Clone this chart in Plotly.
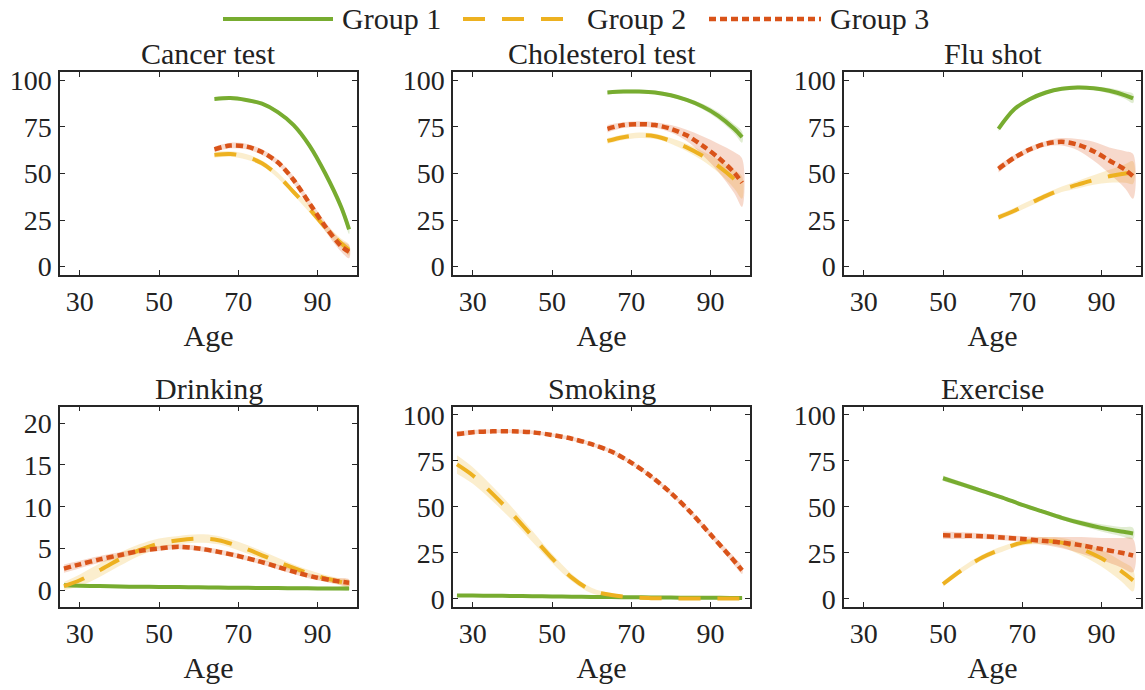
import plotly.graph_objects as go

# ---------------- data ----------------
groups = ["Group 1", "Group 2", "Group 3"]

top_age = [64, 68, 72, 76, 80, 84, 88, 92, 96, 98]

cancer_g1 = [90, 90.5, 89.5, 87.5, 83, 76, 65, 50, 32, 20]
cancer_g2 = [60, 60.5, 59, 55.5, 49, 40, 31, 21, 12.5, 9]
cancer_g3 = [63, 65, 64.5, 61.5, 56, 46.5, 34, 21.5, 11, 8]
cancer_ci1 = [1, 1, 1, 1, 1, 1, 1.5, 1.5, 2, 2.5]
cancer_ci2 = [1.5, 1.5, 1.5, 1.5, 1.5, 1.5, 2, 2, 2.5, 3]
cancer_ci3 = [1.5, 1.5, 1.5, 1.5, 1.5, 2, 2, 2.5, 3, 3.5]

chol_g1 = [93.5, 94, 94, 93.5, 92, 89.5, 86, 81, 74, 69.5]
chol_g2 = [67.5, 69.5, 70.5, 70, 67.5, 64, 59.5, 54, 47, 42.5]
chol_g3 = [74, 76, 76.5, 76, 74, 70.5, 65, 58.5, 50.5, 45]
chol_ci1 = [1, 1, 1, 1, 1, 1, 1.5, 2, 2.5, 3]
chol_ci2 = [1.5, 1.5, 1.5, 1.5, 1.5, 2, 2.5, 3.5, 5, 6]
chol_ci3 = [2, 1.5, 1.5, 1.5, 2, 3, 5, 7.5, 11, 13]

flu_g1 = [74, 84.5, 90, 93.5, 95.5, 96.2, 95.8, 94.4, 92, 90.3]
flu_g2 = [26.5, 30, 34, 38, 41.5, 44, 46.5, 48.5, 50, 50.5]
flu_g3 = [52.5, 58.5, 63, 66, 67, 65.5, 62, 57, 52, 48.5]
flu_ci1 = [1.5, 1, 1, 1, 1, 1, 1, 1.5, 2, 2.5]
flu_ci2 = [1.5, 1.5, 1.5, 1.5, 1.5, 2, 2.5, 3.5, 5, 6]
flu_ci3 = [2, 1.5, 1.5, 1.5, 2, 3, 5, 7, 10, 12]

life_age = [26, 30, 35, 40, 45, 50, 55, 60, 65, 70, 75, 80, 85, 90, 95, 98]

drink_g1 = [0.6, 0.55, 0.5, 0.45, 0.42, 0.4, 0.38, 0.35, 0.33, 0.3, 0.28, 0.26, 0.24, 0.22, 0.2, 0.2]
drink_g2 = [0.5, 1.2, 2.4, 3.7, 4.8, 5.6, 6.0, 6.2, 6.0, 5.3, 4.4, 3.4, 2.5, 1.7, 1.1, 0.8]
drink_g3 = [2.6, 3.1, 3.7, 4.2, 4.7, 5.0, 5.2, 5.0, 4.6, 4.1, 3.5, 2.8, 2.1, 1.5, 1.1, 0.9]
drink_ci1 = [0.2, 0.2, 0.2, 0.2, 0.2, 0.2, 0.2, 0.2, 0.2, 0.2, 0.2, 0.2, 0.2, 0.2, 0.2, 0.2]
drink_ci2 = [0.5, 0.7, 0.8, 0.8, 0.7, 0.6, 0.5, 0.5, 0.5, 0.5, 0.5, 0.5, 0.4, 0.4, 0.4, 0.4]
drink_ci3 = [0.5, 0.45, 0.4, 0.35, 0.3, 0.3, 0.3, 0.3, 0.3, 0.3, 0.3, 0.3, 0.3, 0.3, 0.35, 0.4]

smoke_g1 = [1.8, 1.7, 1.6, 1.5, 1.4, 1.2, 1.1, 1.0, 0.9, 0.8, 0.7, 0.6, 0.55, 0.5, 0.45, 0.4]
smoke_g2 = [73, 67, 57, 46, 34, 22, 11.5, 4.5, 2, 0.7, 0.3, 0.2, 0.1, 0.1, 0.1, 0.1]
smoke_g3 = [89.5, 90.5, 91, 91, 90.5, 89, 87, 84, 80, 74, 66.5, 57.5, 47, 35, 23, 15.5]
smoke_ci1 = [0.5, 0.5, 0.5, 0.5, 0.5, 0.5, 0.5, 0.5, 0.5, 0.5, 0.5, 0.5, 0.5, 0.5, 0.5, 0.5]
smoke_ci2 = [5, 4.5, 4, 3.5, 3, 2.5, 2, 1.5, 1, 0.5, 0.3, 0.3, 0.3, 0.3, 0.3, 0.3]
smoke_ci3 = [1.5, 1.2, 1, 1, 1, 1, 1, 1, 1, 1, 1, 1, 1.2, 1.5, 2, 2]

ex_age = [50, 55, 60, 65, 70, 75, 80, 85, 90, 95, 98]
ex_g1 = [65.5, 62, 58.5, 55, 51, 47.5, 44, 41, 38.5, 36.5, 35.5]
ex_g2 = [8, 16, 22.5, 27, 30.5, 31.5, 30.5, 27, 22, 15, 10]
ex_g3 = [34.5, 34.3, 34, 33.3, 32.5, 31.5, 30.5, 29, 27, 25, 23.5]
ex_ci1 = [1.5, 1.3, 1.2, 1, 1, 1, 1.2, 1.5, 2, 2.5, 3]
ex_ci2 = [1.5, 1.5, 1.5, 1.5, 1.5, 2, 2.5, 3.5, 4.5, 5.5, 6]
ex_ci3 = [2, 1.8, 1.5, 1.5, 1.5, 2, 3, 4.5, 6, 8, 9]

titles = ["Cancer test", "Cholesterol test", "Flu shot", "Drinking", "Smoking", "Exercise"]
x_ticks = [30, 50, 70, 90]
pct_ticks = [0, 25, 50, 75, 100]
drink_ticks = [0, 5, 10, 15, 20]

# ---------------- styling ----------------
COLORS = ["#77AC30", "#EDB120", "#D95319"]
BANDS = ["rgba(119,172,48,0.22)", "rgba(237,177,32,0.22)", "rgba(217,83,25,0.22)"]
DASHES = ["solid", "22px,17px", "7px,4px"]
WIDTHS = [4, 4, 4.5]
FONT = "Liberation Serif, Times New Roman, serif"
AXC = "#262626"
TXT = "#222"

panels = [
    (top_age, [cancer_g1, cancer_g2, cancer_g3], [cancer_ci1, cancer_ci2, cancer_ci3], pct_ticks, [-4.5, 104.5]),
    (top_age, [chol_g1, chol_g2, chol_g3], [chol_ci1, chol_ci2, chol_ci3], pct_ticks, [-4.5, 104.5]),
    (top_age, [flu_g1, flu_g2, flu_g3], [flu_ci1, flu_ci2, flu_ci3], pct_ticks, [-4.5, 104.5]),
    (life_age, [drink_g1, drink_g2, drink_g3], [drink_ci1, drink_ci2, drink_ci3], drink_ticks, [-2, 22]),
    (life_age, [smoke_g1, smoke_g2, smoke_g3], [smoke_ci1, smoke_ci2, smoke_ci3], pct_ticks, [-4.5, 104.5]),
    (ex_age, [ex_g1, ex_g2, ex_g3], [ex_ci1, ex_ci2, ex_ci3], pct_ticks, [-4.5, 104.5]),
]

W, H = 1145, 690
col_dom = [(60 / W, 357 / W), (453 / W, 750 / W), (844 / W, 1141 / W)]
row_dom = [(1 - 275 / H, 1 - 72 / H), (1 - 607 / H, 1 - 406.5 / H)]

fig = go.Figure()
layout = {}
annotations = []

for i, (ages, series, cis, yt, yr) in enumerate(panels):
    r, c = divmod(i, 3)
    n = i + 1
    xa = "x" if n == 1 else f"x{n}"
    ya = "y" if n == 1 else f"y{n}"
    # confidence bands
    for g in range(3):
        up = [v + e for v, e in zip(series[g], cis[g])]
        lo = [max(v - e, -0.3) for v, e in zip(series[g], cis[g])]
        fig.add_trace(go.Scatter(
            x=list(ages) + list(ages)[::-1], y=up + lo[::-1],
            fill="toself", fillcolor=BANDS[g], line=dict(width=0, shape="spline"),
            mode="lines", hoverinfo="skip", showlegend=False, xaxis=xa, yaxis=ya))
    # lines
    for g in range(3):
        fig.add_trace(go.Scatter(
            x=ages, y=series[g], mode="lines", name=groups[g],
            line=dict(color=COLORS[g], width=WIDTHS[g], dash=DASHES[g], shape="spline", smoothing=0.9),
            showlegend=False, xaxis=xa, yaxis=ya))
    axis_common = dict(showline=True, linecolor=AXC, linewidth=1.5, mirror="ticks",
                       ticks="inside", ticklen=5, tickwidth=1.2, tickcolor=AXC,
                       showgrid=False, zeroline=False,
                       tickfont=dict(family=FONT, size=28, color=TXT))
    layout["xaxis" if n == 1 else f"xaxis{n}"] = dict(
        axis_common, domain=col_dom[c], anchor=ya, range=[25, 100], tickvals=x_ticks,
        ticklabelstandoff=1,
        title=dict(text="Age", font=dict(family=FONT, size=30, color=TXT), standoff=9))
    layout["yaxis" if n == 1 else f"yaxis{n}"] = dict(
        axis_common, domain=row_dom[r], anchor=xa, range=yr, tickvals=yt,
        ticklabelstandoff=1)
    annotations.append(dict(
        text=titles[i], x=(col_dom[c][0] + col_dom[c][1]) / 2, y=row_dom[r][1],
        xref="paper", yref="paper", xanchor="center", yanchor="bottom", showarrow=False,
        yshift=0, font=dict(family=FONT, size=30, color=TXT)))

# manual legend (long line samples as in the reference)
leg_y = 1 - 19 / H
leg_items = [(223, 333, 340), (463, 573, 585), (709, 821, 828)]
shapes = []
for g, (x0, x1, tx) in enumerate(leg_items):
    shapes.append(dict(type="line", xref="paper", yref="paper", x0=x0 / W, x1=x1 / W,
                       y0=leg_y, y1=leg_y, line=dict(color=COLORS[g], width=WIDTHS[g], dash=DASHES[g])))
    annotations.append(dict(text=groups[g], x=tx / W, y=leg_y, xref="paper", yref="paper",
                            xanchor="left", yanchor="middle", showarrow=False,
                            font=dict(family=FONT, size=30, color=TXT)))

fig.update_layout(
    **layout,
    width=W, height=H,
    margin=dict(l=0, r=0, t=0, b=0, autoexpand=False),
    paper_bgcolor="white", plot_bgcolor="white",
    showlegend=False,
    annotations=annotations, shapes=shapes,
    font=dict(family=FONT, color=TXT),
)

fig.write_html("out.html")
